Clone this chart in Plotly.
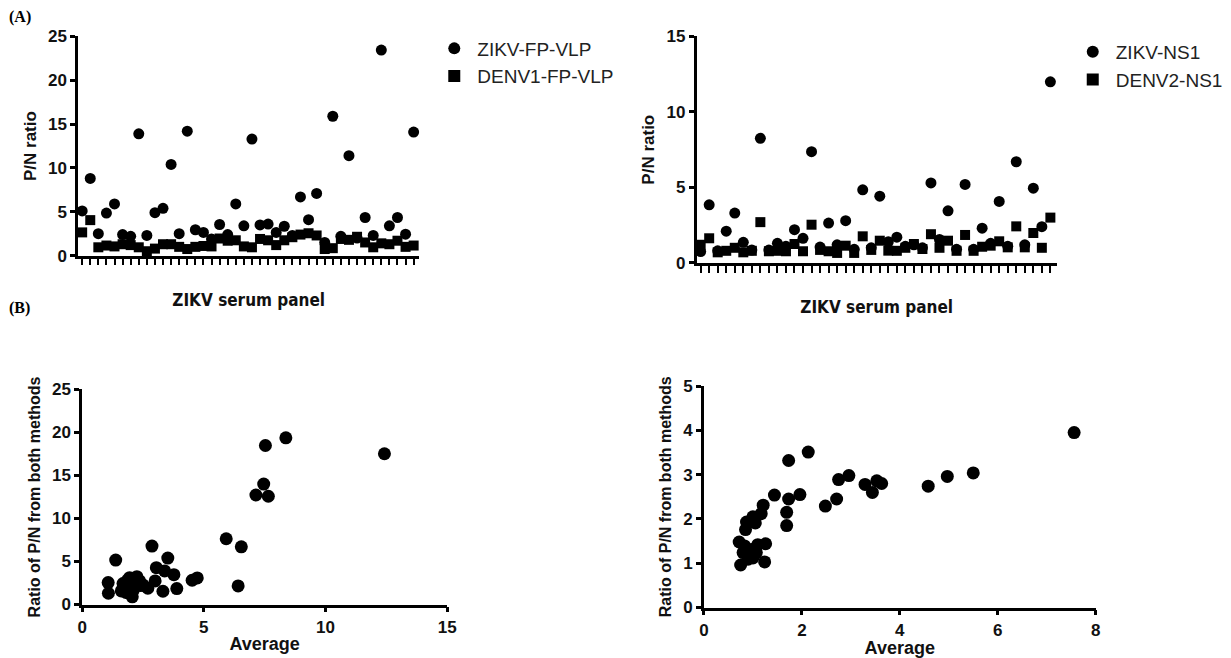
import plotly.graph_objects as go

# ---------------- data ----------------
samples = [f"S{i}" for i in range(1, 43)]

zikv_fp_vlp = [5.1, 8.8, 2.5, 4.85, 5.9, 2.4, 2.2, 13.9, 2.3, 4.9, 5.4, 10.4, 2.5, 14.2,
               2.95, 2.65, 1.9, 3.55, 2.4, 5.9, 3.4, 13.3, 3.5, 3.6, 2.65, 3.35, 2.3, 6.7,
               4.1, 7.1, 1.5, 15.9, 2.2, 11.4, 2.0, 4.35, 2.3, 23.45, 3.4, 4.35, 2.45, 14.1]
denv1_fp_vlp = [2.65, 4.05, 0.95, 1.15, 1.05, 1.3, 1.2, 0.95, 0.5, 0.8, 1.3, 1.3, 1.0, 0.75,
                1.0, 1.1, 1.05, 1.95, 1.7, 1.75, 1.05, 0.95, 1.9, 1.75, 1.2, 1.75, 2.1, 2.4,
                2.55, 2.3, 0.75, 0.85, 1.9, 1.8, 2.15, 1.5, 0.95, 1.4, 1.3, 1.7, 1.0, 1.15]

zikv_ns1 = [0.75, 3.85, 0.8, 2.1, 3.3, 1.36, 0.85, 8.25, 0.85, 1.3, 1.1, 2.2, 1.63, 7.37,
            1.05, 2.64, 1.2, 2.8, 0.9, 4.84, 1.0, 4.42, 1.4, 1.7, 1.1, 1.2, 1.0, 5.3,
            1.55, 3.45, 0.9, 5.2, 0.9, 2.3, 1.3, 4.07, 1.1, 6.7, 1.2, 4.95, 2.4, 12.0]
denv2_ns1 = [1.2, 1.63, 0.7, 0.8, 1.0, 0.7, 0.8, 2.7, 0.77, 0.8, 0.77, 1.25, 0.77, 2.53,
             0.86, 0.77, 0.66, 1.14, 0.66, 1.76, 0.86, 1.47, 0.81, 0.8, 1.0, 1.25, 0.92, 1.9,
             1.0, 1.47, 0.8, 1.85, 0.8, 1.07, 1.14, 1.43, 1.03, 2.42, 1.03, 1.98, 1.0, 3.0]

vlp_average = [1.07, 1.08, 1.38, 1.68, 1.75, 1.86, 1.95, 2.02, 2.06, 2.09, 2.25, 2.36, 2.5,
               2.7, 2.87, 3.0, 3.05, 3.32, 3.39, 3.52, 3.77, 3.89, 4.52, 4.73, 5.92, 6.41,
               6.54, 7.14, 7.46, 7.53, 7.65, 8.37, 12.42, 1.61, 1.89, 1.7, 1.8, 1.95, 2.15,
               2.4, 2.0]
vlp_ratio = [2.55, 1.31, 5.17, 2.43, 1.77, 2.82, 3.12, 2.16, 0.89, 1.58, 3.24, 2.74, 2.28,
             1.89, 6.79, 2.74, 4.28, 1.54, 3.9, 5.4, 3.47, 1.85, 2.82, 3.09, 7.64, 2.16,
             6.71, 12.73, 14.0, 18.48, 12.58, 19.37, 17.52, 1.58, 1.39, 2.0, 1.4, 2.6, 2.9,
             2.2, 1.2]

ns1_average = [0.75, 0.72, 0.85, 0.87, 1.0, 1.05, 1.17, 1.21, 1.24, 1.26, 0.8, 0.9, 0.97,
               1.07, 1.1, 1.0, 0.83, 1.44, 1.69, 1.69, 1.73, 1.73, 1.96, 2.13, 2.48, 2.71,
               2.75, 2.96, 3.29, 3.44, 3.53, 3.63, 4.58, 4.97, 5.5, 7.56]
ns1_ratio = [0.96, 1.48, 1.76, 1.93, 2.05, 1.91, 2.12, 2.31, 1.03, 1.44, 1.24, 1.09, 1.31,
             1.24, 1.42, 1.12, 1.39, 2.54, 1.85, 2.15, 2.45, 3.32, 2.55, 3.51, 2.29, 2.45,
             2.89, 2.98, 2.78, 2.6, 2.86, 2.8, 2.74, 2.96, 3.04, 3.95]

# ---------------- figure ----------------
W, H = 1231, 658
FONT = "Liberation Sans, Arial, sans-serif"
NARROW = "Liberation Sans Narrow, DejaVu Sans Condensed, Arial, sans-serif"

# screen pixel -> paper fraction (small empirical correction for the captured page)
def px_x(p):
    return ((p - 1.7) / 0.991) / W

def px_y(p):
    return 1 - ((p - 7.4) / 0.975) / H

fig = go.Figure()

circ = dict(symbol="circle", size=11, color="black")
sq = dict(symbol="square", size=10, color="black")
big = dict(symbol="circle", size=13, color="black")

fig.add_trace(go.Scatter(x=samples, y=zikv_fp_vlp, mode="markers", marker=circ,
                         name="ZIKV-FP-VLP", xaxis="x", yaxis="y", legend="legend",
                         cliponaxis=False))
fig.add_trace(go.Scatter(x=samples, y=denv1_fp_vlp, mode="markers", marker=sq,
                         name="DENV1-FP-VLP", xaxis="x", yaxis="y", legend="legend",
                         cliponaxis=False))
fig.add_trace(go.Scatter(x=samples, y=zikv_ns1, mode="markers", marker=circ,
                         name="ZIKV-NS1", xaxis="x2", yaxis="y2", legend="legend2",
                         cliponaxis=False))
fig.add_trace(go.Scatter(x=samples, y=denv2_ns1, mode="markers", marker=sq,
                         name="DENV2-NS1", xaxis="x2", yaxis="y2", legend="legend2",
                         cliponaxis=False))
fig.add_trace(go.Scatter(x=vlp_average, y=vlp_ratio, mode="markers", marker=big,
                         showlegend=False, xaxis="x3", yaxis="y3", cliponaxis=False))
fig.add_trace(go.Scatter(x=ns1_average, y=ns1_ratio, mode="markers", marker=big,
                         showlegend=False, xaxis="x4", yaxis="y4", cliponaxis=False))

axis_common = dict(showline=True, linecolor="black", linewidth=2.5, ticks="outside",
                   tickcolor="black", tickwidth=2.5, ticklen=5, showgrid=False,
                   zeroline=False, mirror=False,
                   tickfont=dict(family=FONT, size=17, color="#111", weight="bold"))

cat_x = dict(axis_common, type="category", tickmode="array", tickvals=samples,
             showticklabels=False, ticklen=7, tickwidth=1.5)

title_y = dict(family=FONT, size=17, weight="bold", color="#111")
title_y2 = dict(family=FONT, size=16, weight="bold", color="#111")
title_x = dict(family=NARROW, size=17, weight="bold", color="#111")
title_avg = dict(family=FONT, size=18, weight="bold", color="#111")

fig.update_layout(
    width=W, height=H, paper_bgcolor="white", plot_bgcolor="white",
    margin=dict(l=0, r=0, t=0, b=0),
    font=dict(family=FONT, color="black"),
    xaxis=dict(cat_x, domain=[px_x(75), px_x(417)], range=[-0.5, 41.7], anchor="y",
               title=dict(text="ZIKV serum panel", standoff=30, font=title_x)),
    yaxis=dict(axis_common, domain=[px_y(255), px_y(35)], range=[0, 25], anchor="x",
               tickvals=[0, 5, 10, 15, 20, 25],
               title=dict(text="P/N ratio", standoff=8, font=title_y)),
    xaxis2=dict(cat_x, domain=[px_x(695), px_x(1056)], range=[-0.47, 41.75], anchor="y2",
                title=dict(text="ZIKV serum panel", standoff=30, font=title_x)),
    yaxis2=dict(axis_common, domain=[px_y(262.3), px_y(35)], range=[0, 15], anchor="x2",
                tickvals=[0, 5, 10, 15],
                title=dict(text="P/N ratio", standoff=8, font=title_y)),
    xaxis3=dict(axis_common, domain=[px_x(79), px_x(445)], range=[0, 15], anchor="y3",
                tickvals=[0, 5, 10, 15],
                title=dict(text="Average", standoff=2, font=title_avg)),
    yaxis3=dict(axis_common, domain=[px_y(605.3), px_y(389.3)], range=[0, 25], anchor="x3",
                tickvals=[0, 5, 10, 15, 20, 25],
                title=dict(text="Ratio of P/N from both methods", standoff=8, font=title_y2)),
    xaxis4=dict(axis_common, domain=[px_x(702.3), px_x(1095)], range=[0, 8], anchor="y4",
                tickvals=[0, 2, 4, 6, 8],
                title=dict(text="Average", standoff=2, font=title_avg)),
    yaxis4=dict(axis_common, domain=[px_y(608.3), px_y(386)], range=[0, 5], anchor="x4",
                tickvals=[0, 1, 2, 3, 4, 5],
                title=dict(text="Ratio of P/N from both methods", standoff=8, font=title_y2)),
    legend=dict(x=px_x(429), y=px_y(28), xanchor="left", yanchor="top",
                font=dict(family=FONT, size=19, color="#222"), bgcolor="rgba(0,0,0,0)",
                itemsizing="constant", itemwidth=36),
    legend2=dict(x=px_x(1069), y=px_y(31.5), xanchor="left", yanchor="top",
                 font=dict(family=FONT, size=19, color="#222"), bgcolor="rgba(0,0,0,0)",
                 itemsizing="constant", itemwidth=36),
    annotations=[
        dict(text="(A)", x=px_x(4), y=px_y(15), xref="paper", yref="paper",
             xanchor="left", yanchor="middle", showarrow=False,
             font=dict(family="Liberation Serif, Times New Roman, serif", size=16,
                       weight="bold")),
        dict(text="(B)", x=px_x(4), y=px_y(308), xref="paper", yref="paper",
             xanchor="left", yanchor="middle", showarrow=False,
             font=dict(family="Liberation Serif, Times New Roman, serif", size=16,
                       weight="bold")),
    ],
)

fig.write_html("out.html",
               config={"displayModeBar": False},
               post_script="document.body.style.margin='0px';"
                           "document.body.style.overflow='hidden';")
